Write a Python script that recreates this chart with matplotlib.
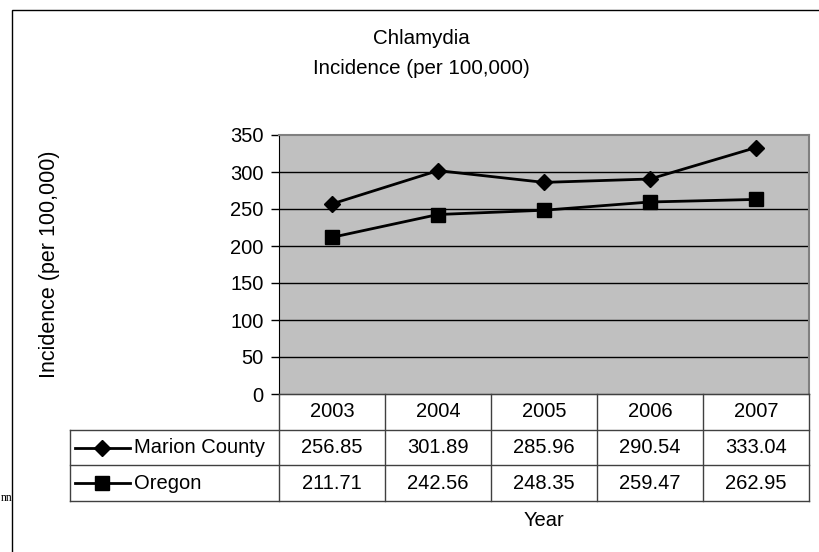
import matplotlib
matplotlib.use("Agg")
import matplotlib.pyplot as plt
from matplotlib.lines import Line2D
from matplotlib.patches import Rectangle

plt.rcParams['font.family'] = ['Liberation Sans', 'DejaVu Sans']

years = ["2003", "2004", "2005", "2006", "2007"]
marion = [256.85, 301.89, 285.96, 290.54, 333.04]
oregon = [211.71, 242.56, 248.35, 259.47, 262.95]
series_names = ["Marion County", "Oregon"]
y_ticks = [0, 50, 100, 150, 200, 250, 300, 350]

W, H = 819, 552
fig = plt.figure(figsize=(W / 100, H / 100), dpi=100)

def px_axes(x0, y0, x1, y1, **kw):
    return fig.add_axes([x0 / W, 1 - y1 / H, (x1 - x0) / W, (y1 - y0) / H], **kw)

# outer chart frame
fig.patches.append(Rectangle((12 / W, -0.05), 1.1, 1 - 10 / H + 0.05,
                             transform=fig.transFigure, fill=False,
                             edgecolor='black', linewidth=1.0))

FS = 14.5
L, R, T, B = 279, 809, 135, 394
ax = px_axes(L, T, R, B)
ax.set_facecolor('#C0C0C0')
x = list(range(len(years)))
ax.set_xlim(-0.5, len(years) - 0.5)
ax.set_ylim(0, 350)
ax.set_yticks(y_ticks)
ax.tick_params(axis='y', labelsize=FS, length=6, width=1, pad=5)
ax.set_xticks([])
for yv in y_ticks[1:-1]:
    ax.axhline(yv, color='black', linewidth=1.0, zorder=1)
for s in ['top', 'right']:
    ax.spines[s].set_color('#808080')
    ax.spines[s].set_linewidth(1.5)
ax.spines['left'].set_color('black')
ax.spines['bottom'].set_color('black')
ax.plot(x, marion, color='black', linewidth=2, marker='D', markersize=8, zorder=3)
ax.plot(x, oregon, color='black', linewidth=2, marker='s', markersize=10, zorder=3)

# titles
fig.text(421 / W, 1 - 38 / H, "Chlamydia", ha='center', va='center', fontsize=14.8)
fig.text(421 / W, 1 - 69 / H, "Incidence (per 100,000)", ha='center', va='center', fontsize=14.8)
fig.text(50 / W, 1 - 264 / H, "Incidence (per 100,000)", ha='center', va='center',
         rotation=90, fontsize=15.5)
fig.text(544 / W, 1 - 520 / H, "Year", ha='center', va='center', fontsize=FS)
fig.text(1 / W, 1 - 498 / H, "nn", ha='left', va='center', fontsize=8.5,
         family='Liberation Serif')

# data table
TL, TT, TB = 70, 394, 501
unit = (R - L) / len(years)
left_units = (L - TL) / unit
tax = px_axes(TL, TT, R, TB)
tax.set_xlim(-0.5 - left_units, len(years) - 0.5)
tax.set_ylim(3, 0)
tax.axis('off')
lk = dict(color='#404040', linewidth=1.0, clip_on=False)
tax.plot([-0.5, len(years) - 0.5], [0, 0], **lk)
for i in range(len(years) + 1):
    tax.plot([i - 0.5, i - 0.5], [0, 3], **lk)
for r in [1, 2, 3]:
    tax.plot([-0.5 - left_units, len(years) - 0.5], [r, r], **lk)
tax.plot([-0.5 - left_units, -0.5 - left_units], [1, 3], **lk)
for i, yr in enumerate(years):
    tax.text(i, 0.5, yr, ha='center', va='center', fontsize=FS)
for r, (vals, mk, ms) in enumerate([(marion, 'D', 8), (oregon, 's', 10)]):
    for i, v in enumerate(vals):
        tax.text(i, r + 1.5, f"{v:.2f}", ha='center', va='center', fontsize=FS)
    x0 = -0.5 - left_units + 5 / unit
    x1 = x0 + 55 / unit
    tax.add_line(Line2D([x0, x1], [r + 1.5, r + 1.5], color='black', linewidth=2,
                        clip_on=False))
    tax.add_line(Line2D([(x0 + x1) / 2], [r + 1.5], color='black', marker=mk,
                        markersize=ms, linestyle='none', clip_on=False))
    tax.text(x1 + 4 / unit, r + 1.5, series_names[r], ha='left', va='center', fontsize=FS)

fig.savefig("out.png", dpi=100)
